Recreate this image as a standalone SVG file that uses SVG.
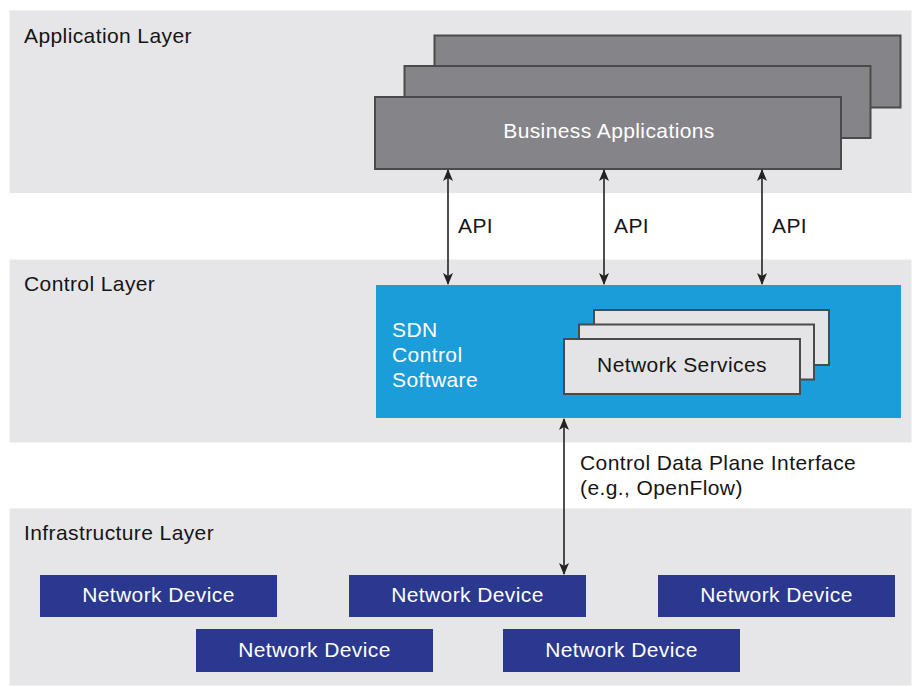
<svg xmlns="http://www.w3.org/2000/svg" width="912" height="687" viewBox="0 0 912 687">
<style>
text{font-family:"Liberation Sans",Arial,sans-serif;font-size:21px;letter-spacing:0.4px;}
.band{fill:#e6e6e8;}
.lbl{fill:#151515;}
.app{fill:#858589;stroke:#4a4a4c;stroke-width:2;}
.ns{fill:#e4e4e6;stroke:#4a4a4c;stroke-width:2;}
.dev{fill:#2b3890;}
.devt{fill:#ffffff;text-anchor:middle;}
.conn{stroke:#222;stroke-width:1.6;fill:none;marker-start:url(#ah);marker-end:url(#ah);}
</style>
<defs>
<marker id="ah" viewBox="0 0 12 10" refX="11" refY="5" markerWidth="12" markerHeight="10" markerUnits="userSpaceOnUse" orient="auto-start-reverse">
<path d="M0,0 L12,5 L0,10 L3,5 Z" fill="#222"/>
</marker>
</defs>
<rect width="912" height="687" fill="#ffffff"/>
<g id="application-layer">
<rect class="band" x="9.5" y="10.5" width="902" height="182.5"/>
<text class="lbl" x="24" y="43">Application Layer</text>
</g>
<g id="control-layer">
<rect class="band" x="9.5" y="259.5" width="902" height="183"/>
<text class="lbl" x="24" y="291">Control Layer</text>
</g>
<g id="infrastructure-layer">
<rect class="band" x="9.5" y="508.5" width="902" height="177"/>
<text class="lbl" x="24" y="540">Infrastructure Layer</text>
</g>
<g id="business-applications">
<rect class="app" x="434.5" y="35.5" width="466" height="72"/>
<rect class="app" x="404.5" y="66" width="466" height="72"/>
<rect class="app" x="375" y="97" width="466" height="72"/>
<text x="609" y="138" fill="#ffffff" text-anchor="middle">Business Applications</text>
</g>
<g id="sdn-control-software">
<rect x="376" y="285" width="525" height="133" fill="#1b9dd9"/>
<text x="392" y="337" fill="#ffffff">SDN</text>
<text x="392" y="362" fill="#ffffff">Control</text>
<text x="392" y="387" fill="#ffffff">Software</text>
</g>
<g id="network-services">
<rect class="ns" x="594" y="310" width="235" height="55"/>
<rect class="ns" x="579" y="324.5" width="235" height="55"/>
<rect class="ns" x="564" y="339" width="236" height="55"/>
<text x="682" y="372" fill="#151515" text-anchor="middle">Network Services</text>
</g>
<g id="network-device-1">
<rect class="dev" x="40" y="575" width="237" height="42"/>
<text class="devt" x="158.5" y="602">Network Device</text>
</g>
<g id="network-device-2">
<rect class="dev" x="349" y="575" width="237" height="42"/>
<text class="devt" x="467.5" y="602">Network Device</text>
</g>
<g id="network-device-3">
<rect class="dev" x="658" y="575" width="237" height="42"/>
<text class="devt" x="776.5" y="602">Network Device</text>
</g>
<g id="network-device-4">
<rect class="dev" x="196" y="629" width="237" height="43"/>
<text class="devt" x="314.5" y="657">Network Device</text>
</g>
<g id="network-device-5">
<rect class="dev" x="503" y="629" width="237" height="43"/>
<text class="devt" x="621.5" y="657">Network Device</text>
</g>
<g id="connectors">
<line class="conn" x1="448" y1="170" x2="448" y2="284"/>
<line class="conn" x1="604" y1="170" x2="604" y2="284"/>
<line class="conn" x1="762" y1="170" x2="762" y2="284"/>
<line class="conn" x1="564" y1="419" x2="564" y2="574"/>
<text class="lbl" x="458" y="233">API</text>
<text class="lbl" x="614" y="233">API</text>
<text class="lbl" x="772" y="233">API</text>
<text class="lbl" x="580" y="470">Control Data Plane Interface</text>
<text class="lbl" x="580" y="495">(e.g., OpenFlow)</text>
</g>
</svg>
